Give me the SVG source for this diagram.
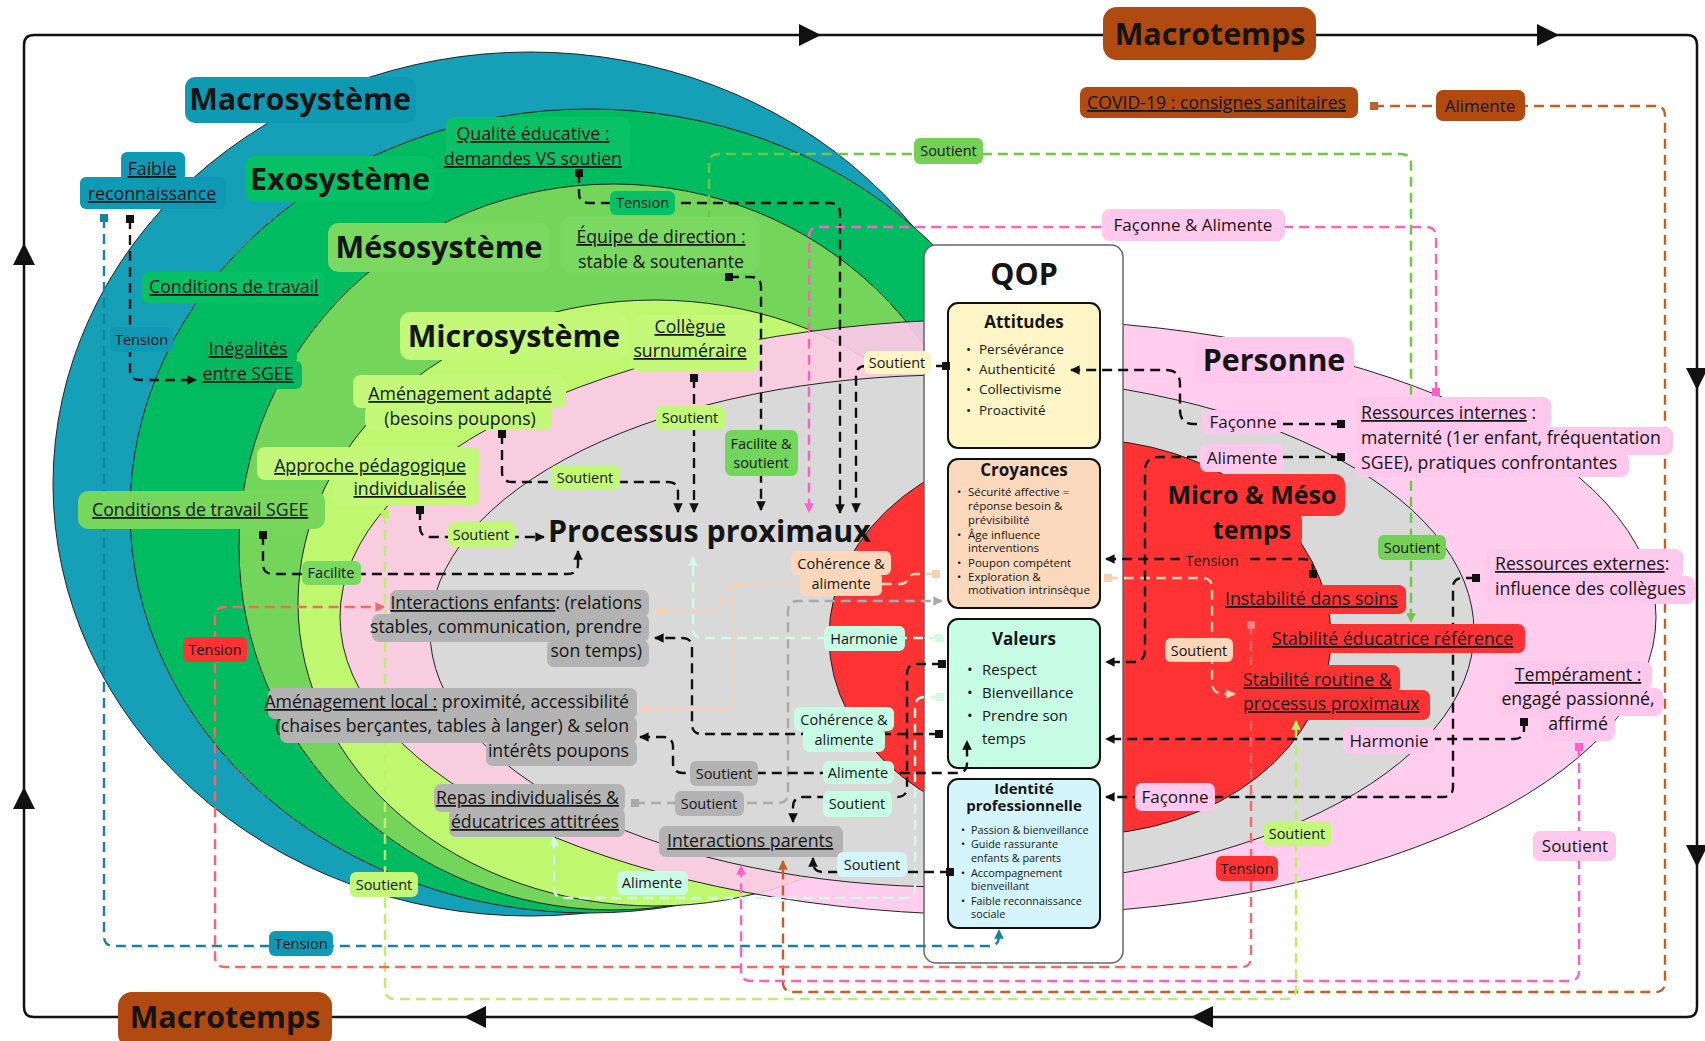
<svg xmlns="http://www.w3.org/2000/svg" width="1705" height="1041" viewBox="0 0 1705 1041">
<style>
text{font-family:"Open Sans","Liberation Sans",sans-serif;fill:#151515}
.t{font-size:30.4px;font-weight:700}
.b{font-size:17.7px}
.s{font-size:14.5px}
.m{font-size:17px}
.u{text-decoration:underline}
.c{text-anchor:middle}
.e{text-anchor:end}
.reg{stroke:#222;stroke-width:1}
.ln{fill:none;stroke-width:2.4;stroke-dasharray:10 6}
.k{stroke:#111}.te{stroke:#16849a}.pk{stroke:#ff60c8}.br{stroke:#c0602a}.gr{stroke:#6bc846}.lg{stroke:#bdf06a}.rd{stroke:#ff6464}.gy{stroke:#a9a9a9}.mt{stroke:#cffbe7}.pc{stroke:#fcd1b0}
.inner{stroke:#111;stroke-width:2}
.fgy{fill:#b3b3b3}.fpk{fill:#ffc8ec}.frd{fill:#ff3333}.fmi{fill:#c3f878}.fme{fill:#7ad95e}.fex{fill:#05c065}.fte{fill:#0e9ab4}.fmt{fill:#c8fde5}.fpc{fill:#fcd7bb}.fbl{fill:#d5f5fd}.fgr{fill:#74d155}.fbr{fill:#b04a10}.fcr{fill:#fff5c6}
</style>
<defs>
<marker id="ak" viewBox="0 0 10 10" refX="9" refY="5" markerWidth="4" markerHeight="4" orient="auto-start-reverse"><path d="M0,0L10,5L0,10z" fill="#111"/></marker>
<marker id="sk" viewBox="0 0 10 10" refX="5" refY="5" markerWidth="3.6" markerHeight="3.6"><rect width="10" height="10" fill="#111"/></marker>
<marker id="ate" viewBox="0 0 10 10" refX="9" refY="5" markerWidth="4" markerHeight="4" orient="auto"><path d="M0,0L10,5L0,10z" fill="#16849a"/></marker>
<marker id="ste" viewBox="0 0 10 10" refX="5" refY="5" markerWidth="3.6" markerHeight="3.6"><rect width="10" height="10" fill="#16849a"/></marker>
<marker id="apk" viewBox="0 0 10 10" refX="9" refY="5" markerWidth="4" markerHeight="4" orient="auto"><path d="M0,0L10,5L0,10z" fill="#ff60c8"/></marker>
<marker id="spk" viewBox="0 0 10 10" refX="5" refY="5" markerWidth="3.6" markerHeight="3.6"><rect width="10" height="10" fill="#ff60c8"/></marker>
<marker id="abr" viewBox="0 0 10 10" refX="9" refY="5" markerWidth="4" markerHeight="4" orient="auto"><path d="M0,0L10,5L0,10z" fill="#c0602a"/></marker>
<marker id="sbr" viewBox="0 0 10 10" refX="5" refY="5" markerWidth="3.6" markerHeight="3.6"><rect width="10" height="10" fill="#c0602a"/></marker>
<marker id="agr" viewBox="0 0 10 10" refX="9" refY="5" markerWidth="4" markerHeight="4" orient="auto"><path d="M0,0L10,5L0,10z" fill="#6bc846"/></marker>
<marker id="sgr" viewBox="0 0 10 10" refX="5" refY="5" markerWidth="3.6" markerHeight="3.6"><rect width="10" height="10" fill="#6bc846"/></marker>
<marker id="alg" viewBox="0 0 10 10" refX="9" refY="5" markerWidth="4" markerHeight="4" orient="auto"><path d="M0,0L10,5L0,10z" fill="#bdf06a"/></marker>
<marker id="slg" viewBox="0 0 10 10" refX="5" refY="5" markerWidth="3.6" markerHeight="3.6"><rect width="10" height="10" fill="#bdf06a"/></marker>
<marker id="ard" viewBox="0 0 10 10" refX="9" refY="5" markerWidth="4" markerHeight="4" orient="auto"><path d="M0,0L10,5L0,10z" fill="#ff6464"/></marker>
<marker id="srd" viewBox="0 0 10 10" refX="5" refY="5" markerWidth="3.6" markerHeight="3.6"><rect width="10" height="10" fill="#ff8080"/></marker>
<marker id="agy" viewBox="0 0 10 10" refX="9" refY="5" markerWidth="4" markerHeight="4" orient="auto"><path d="M0,0L10,5L0,10z" fill="#a9a9a9"/></marker>
<marker id="sgy" viewBox="0 0 10 10" refX="5" refY="5" markerWidth="3.6" markerHeight="3.6"><rect width="10" height="10" fill="#a9a9a9"/></marker>
<marker id="amt" viewBox="0 0 10 10" refX="9" refY="5" markerWidth="4" markerHeight="4" orient="auto"><path d="M0,0L10,5L0,10z" fill="#cffbe7"/></marker>
<marker id="smt" viewBox="0 0 10 10" refX="5" refY="5" markerWidth="3.6" markerHeight="3.6"><rect width="10" height="10" fill="#cffbe7"/></marker>
<marker id="apc" viewBox="0 0 10 10" refX="9" refY="5" markerWidth="4" markerHeight="4" orient="auto"><path d="M0,0L10,5L0,10z" fill="#fcd1b0"/></marker>
<marker id="spc" viewBox="0 0 10 10" refX="5" refY="5" markerWidth="3.6" markerHeight="3.6"><rect width="10" height="10" fill="#fcd1b0"/></marker>
</defs>

<rect width="1705" height="1041" fill="#fff"/>

<!-- Time frame around the whole model -->
<g id="frame">
<path d="M24,45Q24,35 34,35H1687Q1697,35 1697,45V1007Q1697,1017 1687,1017H34Q24,1017 24,1007Z" fill="none" stroke="#111" stroke-width="2.5"/>
<path d="M799,24L821,35L799,46Z M1537,24L1559,35L1537,46Z M1686,368L1697,390L1708,368Z M1686,845L1697,867L1708,845Z M486,1006L464,1017L486,1028Z M1213,1006L1191,1017L1213,1028Z M13,265L24,243L35,265Z M13,809L24,787L35,809Z" fill="#111"/>
</g>

<!-- Nested system layers and person layers -->
<g id="layers">
<ellipse cx="530" cy="484" rx="477" ry="432" fill="#15a0b8" class="reg"/>
<ellipse cx="589" cy="511" rx="459" ry="402" fill="#00bb5f" class="reg"/>
<ellipse cx="613" cy="547" rx="374" ry="363" fill="#74d55b" class="reg"/>
<ellipse cx="655" cy="603" rx="357" ry="303" fill="#bff86f" class="reg"/>
<ellipse cx="998" cy="617" rx="658" ry="298" fill="#ffc8ec" fill-opacity="0.9" class="reg"/>
<ellipse cx="952" cy="631" rx="522" ry="256" fill="#d9d9d9" class="reg"/>
<ellipse cx="1080" cy="637" rx="251" ry="198" fill="#ff3333" class="reg"/>
</g>

<!-- QOP container with its four inner boxes -->
<g id="qop">
<rect x="924" y="245" width="199" height="718" rx="12" fill="#fff" stroke="#666" stroke-width="1.5"/>
<text class="t c" x="1024" y="285">QOP</text>
</g>
<g id="attitudes">
<rect x="948" y="303" width="152" height="145" rx="10" fill="#fff5c6" class="inner"/>
<text class="c" x="1024" y="328" style="font-size:17px;font-weight:700">Attitudes</text>
<g style="font-size:13.5px">
<text x="966" y="354">•</text><text x="979" y="354">Persévérance</text>
<text x="966" y="374">•</text><text x="979" y="374">Authenticité</text>
<text x="966" y="394">•</text><text x="979" y="394">Collectivisme</text>
<text x="966" y="415">•</text><text x="979" y="415">Proactivité</text>
</g>
</g>
<g id="croyances">
<rect x="948" y="459" width="152" height="149" rx="10" fill="#fcd9bd" class="inner"/>
<text class="c" x="1024" y="476" style="font-size:17px;font-weight:700">Croyances</text>
<g style="font-size:11.5px">
<text x="957" y="496">•</text><text x="968" y="496">Sécurité affective =</text>
<text x="968" y="510">réponse besoin &amp;</text>
<text x="968" y="524">prévisibilité</text>
<text x="957" y="539">•</text><text x="968" y="539">Âge influence</text>
<text x="968" y="552">interventions</text>
<text x="957" y="567">•</text><text x="968" y="567">Poupon compétent</text>
<text x="957" y="581">•</text><text x="968" y="581">Exploration &amp;</text>
<text x="968" y="594">motivation intrinsèque</text>
</g>
</g>
<g id="valeurs">
<rect x="948" y="619" width="152" height="149" rx="10" fill="#c8fde5" class="inner"/>
<text class="c" x="1024" y="645" style="font-size:17px;font-weight:700">Valeurs</text>
<g style="font-size:15px">
<text x="967" y="675">•</text><text x="982" y="675">Respect</text>
<text x="967" y="698">•</text><text x="982" y="698">Bienveillance</text>
<text x="967" y="721">•</text><text x="982" y="721">Prendre son</text>
<text x="982" y="744">temps</text>
</g>
</g>
<g id="identite">
<rect x="948" y="779" width="152" height="149" rx="10" fill="#d5f5fd" class="inner"/>
<text class="c" x="1024" y="794" style="font-size:15px;font-weight:700">Identité</text>
<text class="c" x="1024" y="811" style="font-size:15px;font-weight:700">professionnelle</text>
<g style="font-size:10.8px">
<text x="961" y="834">•</text><text x="971" y="834">Passion &amp; bienveillance</text>
<text x="961" y="848">•</text><text x="971" y="848">Guide rassurante</text>
<text x="971" y="862">enfants &amp; parents</text>
<text x="961" y="877">•</text><text x="971" y="877">Accompagnement</text>
<text x="971" y="890">bienveillant</text>
<text x="961" y="905">•</text><text x="971" y="905">Faible reconnaissance</text>
<text x="971" y="918">sociale</text>
</g>
</g>

<!-- Connectors -->
<g id="connectors">
<path class="ln te" d="M104,218V936Q104,946 114,946H989Q999,946 999,936V930" marker-start="url(#ste)" marker-end="url(#ate)"/>
<path class="ln k" d="M130,219V370Q130,380 140,380H196" marker-start="url(#sk)" marker-end="url(#ak)"/>
<path class="ln k" d="M579,173V193Q579,203 589,203H830Q840,203 840,213V513" marker-start="url(#sk)" marker-end="url(#ak)"/>
<path class="ln gr" d="M709,221V164Q709,154 719,154H1401Q1411,154 1411,164V622" marker-start="url(#sgr)" marker-end="url(#agr)"/>
<path class="ln pk" d="M1436,392V237Q1436,227 1426,227H819Q809,227 809,237V512" marker-start="url(#spk)" marker-end="url(#apk)"/>
<path class="ln br" d="M1374,106H1655Q1665,106 1665,116V982Q1665,992 1655,992H793Q783,992 783,982V861" marker-start="url(#sbr)" marker-end="url(#abr)"/>
<path class="ln k" d="M729,277H751Q761,277 761,287V510" marker-start="url(#sk)" marker-end="url(#ak)"/>
<path class="ln k" d="M694,378V512" marker-start="url(#sk)" marker-end="url(#ak)"/>
<path class="ln k" d="M502,434V472Q502,482 512,482H668Q678,482 678,492V512" marker-start="url(#sk)" marker-end="url(#ak)"/>
<path class="ln k" d="M420,510V527Q420,537 430,537H544" marker-start="url(#sk)" marker-end="url(#ak)"/>
<path class="ln k" d="M263,535V564Q263,574 273,574H568Q578,574 578,564V551" marker-start="url(#sk)" marker-end="url(#ak)"/>
<path class="ln lg" d="M385,514V989Q385,999 395,999H1286Q1296,999 1296,989V721" marker-start="url(#slg)" marker-end="url(#alg)"/>
<path class="ln rd" d="M1251,625V957Q1251,967 1241,967H225Q215,967 215,957V617Q215,607 225,607H384" marker-start="url(#srd)" marker-end="url(#ard)"/>
<path class="ln gy" d="M635,803H778Q788,803 788,793V611Q788,601 798,601H942" marker-start="url(#sgy)" marker-end="url(#agy)"/>
<path class="ln mt" d="M940,697H925Q915,697 915,707V888Q915,898 905,898H564Q554,898 554,888V837" marker-start="url(#smt)" marker-end="url(#amt)"/>
<path class="ln mt" d="M939,638H703Q693,638 693,628V557" marker-start="url(#smt)" marker-end="url(#amt)"/>
<path class="ln pc" d="M936,574H915Q910,574 908,579Q906,584 900,584H740Q723,584 723,597Q723,611 709,611H655" marker-start="url(#spc)" marker-end="url(#apc)"/>
<path class="ln pc" d="M740,584Q733,584 733,592V699Q733,709 723,709H640" marker-end="url(#apc)"/>
<path class="ln pc" d="M1108,578H1202Q1212,578 1212,588V682Q1212,694 1224,694H1235" marker-start="url(#spc)" marker-end="url(#apc)"/>
<path class="ln k" d="M939,734H702Q692,734 692,724V648Q692,638 682,638H655" marker-start="url(#sk)" marker-end="url(#ak)"/>
<path class="ln k" d="M942,664H917Q907,664 907,674V787Q907,797 897,797H803Q793,797 793,807V822" marker-start="url(#sk)" marker-end="url(#ak)"/>
<path class="ln k" d="M640,737H663Q673,737 673,747V763Q673,773 683,773H957Q967,773 967,763V741" marker-start="url(#ak)" marker-end="url(#ak)"/>
<path class="ln k" d="M950,872H823Q813,872 813,862V858" marker-start="url(#sk)" marker-end="url(#ak)"/>
<path class="ln k" d="M946,366H866Q856,366 856,376V512" marker-start="url(#sk)" marker-end="url(#ak)"/>
<path class="ln k" d="M1341,424H1194Q1180,424 1180,410V384Q1180,370 1166,370H1071" marker-start="url(#sk)" marker-end="url(#ak)"/>
<path class="ln k" d="M1341,457H1159Q1145,457 1145,471V650Q1145,662 1133,662H1106" marker-start="url(#sk)" marker-end="url(#ak)"/>
<path class="ln k" d="M1313,574V569Q1313,559 1303,559H1106" marker-start="url(#sk)" marker-end="url(#ak)"/>
<path class="ln k" d="M1476,578H1463Q1453,578 1453,588V787Q1453,797 1443,797H1106" marker-start="url(#sk)" marker-end="url(#ak)"/>
<path class="ln k" d="M1524,722V729Q1524,739 1514,739H1106" marker-start="url(#sk)" marker-end="url(#ak)"/>
<path class="ln pk" d="M1579,747V971Q1579,981 1569,981H751Q741,981 741,971V866" marker-start="url(#spk)" marker-end="url(#apk)"/>
</g>

<!-- Layer titles -->
<g id="macrotemps-top">
<rect x="1103" y="7" width="213" height="53" rx="14" fill="#b04a10"/>
<text class="t c" x="1210" y="45">Macrotemps</text>
</g>
<g id="macrotemps-bottom">
<rect x="118" y="992" width="214" height="56" rx="14" fill="#b04a10"/>
<text class="t c" x="225" y="1028">Macrotemps</text>
</g>
<g id="macrosysteme">
<rect x="185" y="77" width="231" height="46" rx="10" fill="#0f9ab4"/>
<text class="t c" x="300" y="110">Macrosystème</text>
</g>
<g id="exosysteme">
<rect x="245" y="156" width="189" height="46" rx="10" fill="#05c065"/>
<text class="t c" x="340" y="190">Exosystème</text>
</g>
<g id="mesosysteme">
<rect x="328" y="223" width="222" height="49" rx="10" fill="#7bd962"/>
<text class="t c" x="439" y="258">Mésosystème</text>
</g>
<g id="microsysteme">
<rect x="400" y="312" width="228" height="48" rx="10" fill="#c3f878"/>
<text class="t c" x="514" y="347">Microsystème</text>
</g>
<g id="personne">
<rect x="1194" y="337" width="160" height="46" rx="10" fill="#ffc8ec"/>
<text class="t c" x="1274" y="371">Personne</text>
</g>
<g id="micro-meso-temps">
<rect x="1160" y="474" width="185" height="42" rx="10" fill="#ff3333"/>
<rect x="1200" y="510" width="102" height="38" rx="10" fill="#ff3333"/>
<text class="c" x="1252" y="504" style="font-size:25px;font-weight:700">Micro &amp; Méso</text>
<text class="c" x="1252" y="539" style="font-size:25px;font-weight:700">temps</text>
</g>
<g id="processus-proximaux">
<text class="t" x="548" y="542">Processus proximaux</text>
</g>

<!-- Content nodes -->
<g id="covid">
<rect x="1080" y="87" width="278" height="31" rx="7" fill="#b04a10"/>
<text class="b" x="1087" y="109"><tspan class="u">COVID-19 : consignes sanitaires</tspan></text>
</g>
<g id="faible-reconnaissance">
<rect x="121" y="152" width="64" height="30" rx="6" class="fte"/>
<rect x="80" y="177" width="146" height="32" rx="6" class="fte"/>
<text class="b c" x="152" y="175"><tspan class="u">Faible</tspan></text>
<text class="b c" x="152" y="200"><tspan class="u">reconnaissance</tspan></text>
</g>
<g id="conditions-travail">
<rect x="142" y="272" width="183" height="31" rx="6" class="fex"/>
<text class="b" x="149" y="293"><tspan class="u">Conditions de travail</tspan></text>
</g>
<g id="inegalites">
<rect x="205" y="337" width="92" height="27" rx="6" fill="#03b860"/>
<rect x="197" y="361" width="105" height="28" rx="6" fill="#03b860"/>
<text class="b c" x="248" y="355"><tspan class="u">Inégalités</tspan></text>
<text class="b c" x="248" y="380"><tspan class="u">entre SGEE</tspan></text>
</g>
<g id="qualite-educative">
<rect x="446" y="117" width="184" height="52" rx="8" fill="#0ac167"/>
<text class="b c" x="533" y="140"><tspan class="u">Qualité éducative :</tspan></text>
<text class="b c" x="533" y="165"><tspan class="u">demandes VS soutien</tspan></text>
</g>
<g id="equipe-direction">
<rect x="561" y="217" width="198" height="56" rx="10" fill="#7bd962"/>
<text class="b c" x="661" y="243"><tspan class="u">Équipe de direction :</tspan></text>
<text class="b c" x="661" y="268">stable &amp; soutenante</text>
</g>
<g id="collegue">
<rect x="631" y="315" width="128" height="57" rx="10" class="fmi"/>
<text class="b c" x="690" y="333"><tspan class="u">Collègue</tspan></text>
<text class="b c" x="690" y="357"><tspan class="u">surnuméraire</tspan></text>
</g>
<g id="amenagement-adapte">
<rect x="353" y="375" width="213" height="33" rx="8" class="fmi"/>
<rect x="365" y="404" width="187" height="26" rx="8" class="fmi"/>
<text class="b c" x="460" y="400"><tspan class="u">Aménagement adapté</tspan></text>
<text class="b c" x="460" y="425">(besoins poupons)</text>
</g>
<g id="approche">
<rect x="257" y="447" width="222" height="33" rx="8" class="fmi"/>
<rect x="333" y="476" width="146" height="30" rx="8" class="fmi"/>
<text class="b e" x="466" y="472"><tspan class="u">Approche pédagogique</tspan></text>
<text class="b e" x="466" y="495"><tspan class="u">individualisée</tspan></text>
</g>
<g id="conditions-sgee">
<rect x="78" y="491" width="247" height="38" rx="10" fill="#77d65c"/>
<text class="b" x="92" y="516"><tspan class="u">Conditions de travail SGEE</tspan></text>
</g>
<g id="interactions-enfants">
<rect x="390" y="590" width="259" height="27" rx="7" class="fgy"/>
<rect x="372" y="614" width="277" height="28" rx="7" class="fgy"/>
<rect x="547" y="640" width="102" height="27" rx="7" class="fgy"/>
<text class="b e" x="642" y="609"><tspan class="u">Interactions enfants</tspan>: (relations</text>
<text class="b e" x="642" y="633">stables, communication, prendre</text>
<text class="b e" x="642" y="657">son temps)</text>
</g>
<g id="amenagement-local">
<rect x="268" y="688" width="369" height="31" rx="7" class="fgy"/>
<rect x="280" y="716" width="357" height="27" rx="7" class="fgy"/>
<rect x="486" y="740" width="151" height="26" rx="7" class="fgy"/>
<text class="b e" x="629" y="708"><tspan class="u">Aménagement local :</tspan> proximité, accessibilité</text>
<text class="b e" x="629" y="732">(chaises berçantes, tables à langer) &amp; selon</text>
<text class="b e" x="629" y="757">intérêts poupons</text>
</g>
<g id="repas">
<rect x="434" y="784" width="191" height="28" rx="7" class="fgy"/>
<rect x="449" y="808" width="176" height="29" rx="7" class="fgy"/>
<text class="b e" x="619" y="804"><tspan class="u">Repas individualisés &amp;</tspan></text>
<text class="b e" x="619" y="828"><tspan class="u">éducatrices attitrées</tspan></text>
</g>
<g id="interactions-parents">
<rect x="659" y="826" width="184" height="31" rx="7" class="fgy"/>
<text class="b" x="667" y="847"><tspan class="u">Interactions parents</tspan></text>
</g>
<g id="ressources-internes">
<rect x="1355" y="397" width="196" height="33" rx="8" class="fpk"/>
<rect x="1355" y="427" width="318" height="28" rx="8" class="fpk"/>
<rect x="1355" y="452" width="274" height="25" rx="8" class="fpk"/>
<text class="b" x="1361" y="419"><tspan class="u">Ressources internes</tspan> :</text>
<text class="b" x="1361" y="444">maternité (1er enfant, fréquentation</text>
<text class="b" x="1361" y="469">SGEE), pratiques confrontantes</text>
</g>
<g id="ressources-externes">
<rect x="1486" y="549" width="197" height="30" rx="8" class="fpk"/>
<rect x="1486" y="576" width="209" height="28" rx="8" class="fpk"/>
<text class="b" x="1495" y="570"><tspan class="u">Ressources externes</tspan>:</text>
<text class="b" x="1495" y="595">influence des collègues</text>
</g>
<g id="temperament">
<rect x="1503" y="661" width="149" height="29" rx="8" class="fpk"/>
<rect x="1495" y="688" width="168" height="28" rx="8" class="fpk"/>
<rect x="1541" y="714" width="74" height="27" rx="8" class="fpk"/>
<text class="b c" x="1578" y="681"><tspan class="u">Tempérament :</tspan></text>
<text class="b c" x="1578" y="705">engagé passionné,</text>
<text class="b c" x="1578" y="730">affirmé</text>
</g>
<g id="instabilite">
<rect x="1218" y="585" width="188" height="29" rx="7" class="frd"/>
<text class="b" x="1225" y="605"><tspan class="u">Instabilité dans soins</tspan></text>
</g>
<g id="stabilite-educatrice">
<rect x="1265" y="624" width="260" height="29" rx="7" class="frd"/>
<text class="b" x="1272" y="645"><tspan class="u">Stabilité éducatrice référence</tspan></text>
</g>
<g id="stabilite-routine">
<rect x="1236" y="665" width="164" height="29" rx="7" class="frd"/>
<rect x="1236" y="690" width="194" height="30" rx="7" class="frd"/>
<text class="b" x="1243" y="686"><tspan class="u">Stabilité routine &amp;</tspan></text>
<text class="b" x="1243" y="710"><tspan class="u">processus proximaux</tspan></text>
</g>

<!-- Connector labels -->
<g id="connector-labels">
<rect x="110" y="327" width="63" height="25" rx="6" class="fte"/><text class="s c" x="141.5" y="345">Tension</text>
<rect x="610" y="191" width="65" height="24" rx="6" class="fex"/><text class="s c" x="642.5" y="208">Tension</text>
<rect x="914" y="138" width="69" height="26" rx="6" class="fgr"/><text class="s c" x="948.5" y="156">Soutient</text>
<rect x="1102" y="209" width="183" height="32" rx="8" class="fpk"/><text class="m c" x="1193" y="231">Façonne &amp; Alimente</text>
<rect x="1436" y="90" width="89" height="31" rx="7" class="fbr"/><text class="m c" x="1480" y="112">Alimente</text>
<rect x="656" y="405" width="69" height="25" rx="6" class="fmi"/><text class="s c" x="690" y="423">Soutient</text>
<rect x="551" y="465" width="69" height="25" rx="6" class="fmi"/><text class="s c" x="585" y="483">Soutient</text>
<rect x="448" y="522" width="67" height="25" rx="6" class="fmi"/><text class="s c" x="481" y="540">Soutient</text>
<rect x="302" y="561" width="59" height="24" rx="6" class="fme"/><text class="s c" x="331" y="578">Facilite</text>
<rect x="725" y="430" width="73" height="46" rx="7" fill="#72d65a"/><text class="s c" x="761" y="449">Facilite &amp;</text><text class="s c" x="761" y="468">soutient</text>
<rect x="864" y="351" width="67" height="23" rx="6" class="fcr"/><text class="s c" x="897" y="368">Soutient</text>
<rect x="183" y="637" width="64" height="25" rx="6" class="frd"/><text class="s c" x="215" y="655">Tension</text>
<rect x="791" y="551" width="100" height="24" rx="6" class="fpc"/><rect x="800" y="572" width="82" height="24" rx="6" class="fpc"/><text class="s c" x="841" y="569">Cohérence &amp;</text><text class="s c" x="841" y="589">alimente</text>
<rect x="824" y="626" width="81" height="25" rx="6" class="fmt"/><text class="s c" x="864" y="644">Harmonie</text>
<rect x="794" y="707" width="100" height="24" rx="6" class="fmt"/><rect x="803" y="728" width="82" height="24" rx="6" class="fmt"/><text class="s c" x="844" y="725">Cohérence &amp;</text><text class="s c" x="844" y="745">alimente</text>
<rect x="690" y="761" width="68" height="25" rx="6" class="fgy"/><text class="s c" x="724" y="779">Soutient</text>
<rect x="823" y="761" width="71" height="23" rx="6" class="fmt"/><text class="s c" x="858" y="778">Alimente</text>
<rect x="675" y="791" width="69" height="25" rx="6" class="fgy"/><text class="s c" x="709" y="809">Soutient</text>
<rect x="823" y="791" width="69" height="26" rx="6" class="fmt"/><text class="s c" x="857" y="809">Soutient</text>
<rect x="837" y="852" width="70" height="25" rx="6" class="fbl"/><text class="s c" x="872" y="870">Soutient</text>
<rect x="617" y="871" width="71" height="24" rx="6" class="fmt"/><text class="s c" x="652" y="888">Alimente</text>
<rect x="350" y="872" width="68" height="25" rx="6" class="fmi"/><text class="s c" x="384" y="890">Soutient</text>
<rect x="269" y="931" width="64" height="25" rx="6" class="fte"/><text class="s c" x="301" y="949">Tension</text>
<rect x="1202" y="410" width="81" height="24" rx="7" class="fpk"/><text class="m c" x="1243" y="428">Façonne</text>
<rect x="1200" y="444" width="83" height="28" rx="7" class="fpk"/><text class="m c" x="1242" y="464">Alimente</text>
<rect x="1180" y="550" width="65" height="22" rx="6" class="frd"/><text class="s c" x="1212" y="566">Tension</text>
<rect x="1165" y="638" width="68" height="24" rx="6" class="fpc"/><text class="s c" x="1199" y="656">Soutient</text>
<rect x="1378" y="535" width="68" height="25" rx="6" class="fgr"/><text class="s c" x="1412" y="553">Soutient</text>
<rect x="1343" y="727" width="92" height="27" rx="7" class="fpk"/><text class="m c" x="1389" y="747">Harmonie</text>
<rect x="1135" y="783" width="80" height="28" rx="7" class="fpk"/><text class="m c" x="1175" y="803">Façonne</text>
<rect x="1264" y="821" width="67" height="25" rx="6" class="fmi"/><text class="s c" x="1297" y="839">Soutient</text>
<rect x="1216" y="856" width="62" height="25" rx="6" class="frd"/><text class="s c" x="1247" y="874">Tension</text>
<rect x="1533" y="831" width="83" height="30" rx="7" class="fpk"/><text class="m c" x="1575" y="852">Soutient</text>
</g>
</svg>
